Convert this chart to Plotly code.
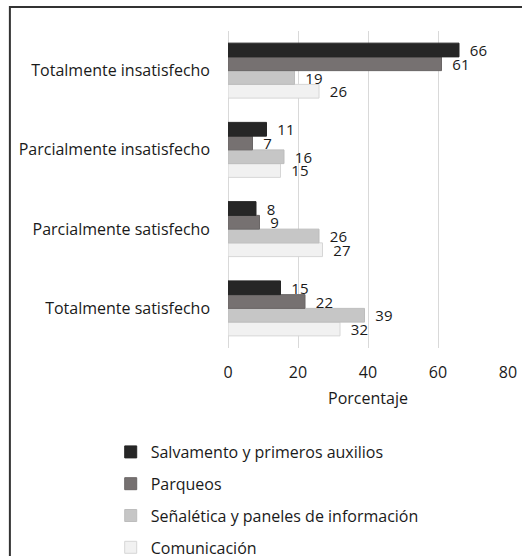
import plotly.graph_objects as go

categories = ["Totalmente satisfecho", "Parcialmente satisfecho",
              "Parcialmente insatisfecho", "Totalmente insatisfecho"]
series_names = ["Salvamento y primeros auxilios", "Parqueos",
                "Señalética y paneles de información", "Comunicación"]
salvamento = [15, 8, 11, 66]
parqueos = [22, 9, 7, 61]
senaletica = [39, 26, 16, 19]
comunicacion = [32, 27, 15, 26]
fills = ["#262626", "#767171", "#c6c6c6", "#f1f1f1"]
edges = ["#262626", "#6a6666", "#bdbdbd", "#d6d6d6"]
x_ticks = [0, 20, 40, 60, 80]

W, H = 522, 556
L, R, T, B = 227.5, 508, 31, 348
FONT = "Open Sans"

fig = go.Figure()
values = [salvamento, parqueos, senaletica, comunicacion]
# add in reverse so the first series sits on top within each group
for i in reversed(range(4)):
    fig.add_trace(go.Bar(
        y=categories, x=values[i], orientation="h", name=series_names[i],
        marker=dict(color=fills[i], line=dict(color=edges[i], width=1)),
        text=values[i], texttemplate="  %{x}", textposition="outside",
        constraintext="none", cliponaxis=False,
        textfont=dict(size=15, color="#1a1a1a", family=FONT),
        legendrank=i + 1, legendgroup=f"g{i}",
    ))

def px_x(p):
    return (p - L) / (R - L)

def px_y(p):
    return (B - p) / (B - T)

fig.update_layout(
    width=W, height=H,
    margin=dict(l=L, r=W - R, t=T, b=H - B, autoexpand=False),
    barmode="group", bargap=0.306, bargroupgap=0,
    plot_bgcolor="white", paper_bgcolor="white",
    font=dict(family=FONT, size=16, color="#1a1a1a"),
    showlegend=True,
    legend=dict(traceorder="grouped", tracegroupgap=8,
                x=px_x(110), xanchor="left", y=px_y(435), yanchor="top",
                font=dict(size=16, family=FONT, color="#1a1a1a"),
                bgcolor="rgba(0,0,0,0)", itemclick=False),
    xaxis=dict(range=[0, 80], tickvals=x_ticks, showgrid=True,
               gridcolor="#d9d9d9", gridwidth=1, zeroline=True,
               zerolinecolor="#d9d9d9", zerolinewidth=1,
               showline=False, ticks="", ticklabelstandoff=13,
               title=dict(text="Porcentaje", standoff=10,
                          font=dict(size=16, family=FONT)),
               tickfont=dict(size=16, family=FONT)),
    yaxis=dict(showgrid=False, ticks="", showline=False,
               ticklabelstandoff=17,
               tickfont=dict(size=16, family=FONT)),
    shapes=[dict(type="rect", xref="paper", yref="paper",
                 x0=px_x(9), x1=px_x(540), y0=px_y(580), y1=px_y(7),
                 line=dict(color="#333333", width=2), layer="above")],
)

fig.write_html(
    "out.html",
    config={"displayModeBar": False},
    post_script="document.body.style.margin='0';"
                "document.body.style.overflow='hidden';",
)
